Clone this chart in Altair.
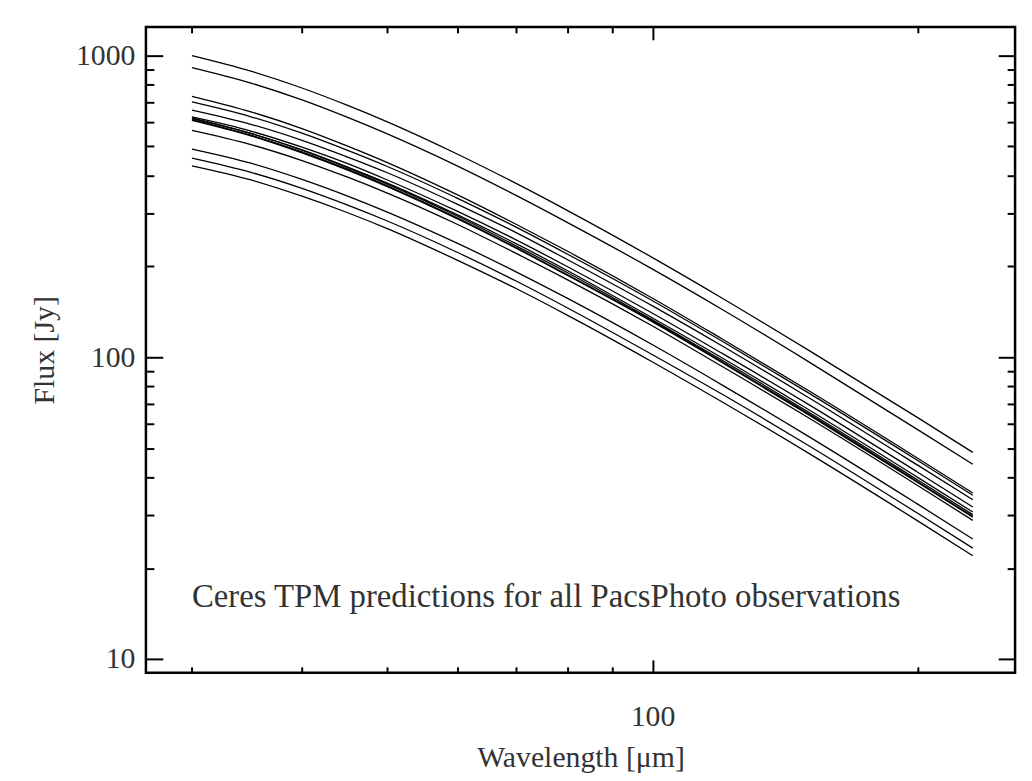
import altair as alt
import pandas as pd

wavelength = [30, 35, 40, 45, 50, 60, 70, 80, 100, 120, 150, 200, 231]

curves = [
    [1000, 888, 781, 685, 603, 472, 377, 307, 214, 157, 106, 63.1, 48.4],
    [913, 811, 713, 625, 550, 431, 344, 280, 196, 144, 97.1, 57.6, 44.2],
    [733, 651, 573, 502, 442, 346, 276, 225, 157, 115, 77.9, 46.3, 35.5],
    [702, 627, 553, 486, 429, 337, 270, 220, 154, 113, 76.5, 45.5, 34.9],
    [660, 592, 524, 462, 409, 322, 259, 211, 148, 109, 73.9, 43.9, 33.7],
    [626, 562, 497, 439, 387, 305, 245, 200, 140, 103, 70.1, 41.6, 31.9],
    [622, 552, 486, 426, 375, 294, 234, 191, 133, 97.8, 66.1, 39.2, 30.1],
    [618, 552, 487, 428, 378, 297, 238, 194, 135, 99.5, 67.4, 40.0, 30.7],
    [614, 545, 480, 421, 370, 290, 231, 188, 132, 96.6, 65.3, 38.7, 29.7],
    [610, 542, 476, 418, 368, 288, 230, 187, 131, 96.0, 64.8, 38.5, 29.5],
    [565, 507, 449, 396, 350, 276, 221, 181, 127, 93.2, 63.3, 37.6, 28.8],
    [490, 440, 389, 343, 303, 239, 192, 157, 110, 80.9, 54.9, 32.6, 25.0],
    [457, 410, 363, 320, 283, 223, 179, 146, 102, 75.4, 51.2, 30.4, 23.3],
    [431, 387, 342, 302, 267, 210, 169, 138, 96.5, 71.1, 48.3, 28.7, 22.0],
]

x_ticks = [30, 40, 50, 60, 70, 80, 90, 100, 200]
y_ticks = [10, 20, 30, 40, 50, 60, 70, 80, 90, 100, 200, 300, 400, 500, 600, 700, 800, 900, 1000]

annotation = "Ceres TPM predictions for all PacsPhoto observations"
ann_x = [30]
ann_y = [16]

rows = []
for i, c in enumerate(curves):
    for w, f in zip(wavelength, c):
        rows.append({"curve": i, "wavelength": w, "flux": f})
df = pd.DataFrame(rows)
ann = pd.DataFrame({"x": ann_x, "y": ann_y, "t": [annotation]})

FONT = "Liberation Serif"
TXT = "#333333"
xscale = alt.Scale(type="log", domain=[26.6, 258], nice=False)
yscale = alt.Scale(type="log", domain=[9.0, 1245], nice=False)

xsize = {"condition": {"test": "datum.value === 100", "value": -13}, "value": -6}
ysize = {"condition": {"test": "datum.value === 10 || datum.value === 100 || datum.value === 1000", "value": -17}, "value": -8}

common = dict(domain=False, grid=False, tickColor="black", tickWidth=2,
              labelFont=FONT, titleFont=FONT, labelColor=TXT, titleColor=TXT,
              titleFontWeight="normal")

x_bottom = alt.Axis(orient="bottom", values=x_ticks, tickSize=xsize,
                    labelExpr="datum.value === 100 ? '100' : ''",
                    labelFontSize=30, labelPadding=42, title="Wavelength [μm]",
                    titleFontSize=30, titlePadding=11, **common)
y_left = alt.Axis(orient="left", values=y_ticks, tickSize=ysize,
                  labelExpr="datum.value === 10 || datum.value === 100 || datum.value === 1000 ? format(datum.value, 'd') : ''",
                  labelFontSize=30, labelPadding=28, title="Flux [Jy]",
                  titleFontSize=30, titlePadding=16, **common)
x_top = alt.Axis(orient="top", values=x_ticks, tickSize=xsize, labels=False, title=None, **common)
y_right = alt.Axis(orient="right", values=y_ticks, tickSize=ysize, labels=False, title=None, **common)

lines = alt.Chart(df).mark_line(color="black", strokeWidth=1.3, interpolate="monotone").encode(
    x=alt.X("wavelength:Q", scale=xscale, axis=x_bottom),
    y=alt.Y("flux:Q", scale=yscale, axis=y_left),
    detail="curve:N",
)

text = alt.Chart(ann).mark_text(align="left", baseline="middle", font=FONT,
                                fontSize=33, color=TXT).encode(
    x=alt.X("x:Q", scale=xscale, axis=x_top),
    y=alt.Y("y:Q", scale=yscale, axis=y_right),
    text="t:N",
)

chart = alt.layer(lines, text).resolve_axis(x="independent", y="independent").properties(
    width=876, height=651,
    autosize=alt.AutoSizeParams(type="none"),
    padding={"left": 139, "top": 16, "right": 9, "bottom": 104},
).configure_view(stroke="black", strokeWidth=2.5)

chart.save("out.html", embed_options={"renderer": "svg", "actions": False})
